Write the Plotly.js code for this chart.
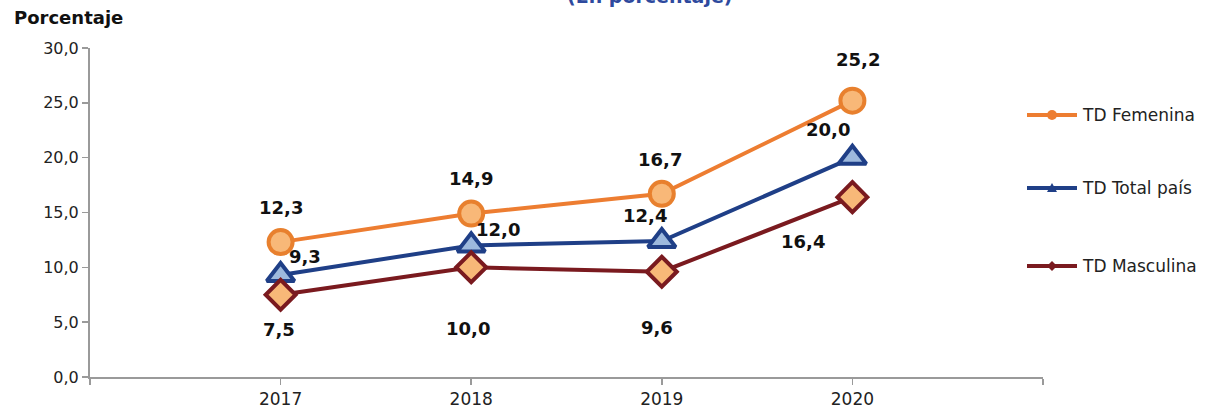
<!DOCTYPE html>
<html>
<head>
<meta charset="utf-8">
<script src="https://cdn.plot.ly/plotly-3.0.1.min.js"></script>
<style>html,body{margin:0;padding:0;background:#fff;}#chart{width:1205px;height:408px;}</style>
</head>
<body>
<div id="chart"></div>
<script>
// ---- data ----
const years = [2017, 2018, 2019, 2020];
const tdFemenina = [12.3, 14.9, 16.7, 25.2];
const tdTotal = [9.3, 12.0, 12.4, 20.0];
const tdMasculina = [7.5, 10.0, 9.6, 16.4];
const seriesNames = ['TD Femenina', 'TD Total país', 'TD Masculina'];
const yTickVals = [0, 5, 10, 15, 20, 25, 30];

// ---- style ----
const FONT = 'DejaVu Sans, Verdana, sans-serif';
const fmt = v => v.toFixed(1).replace('.', ',');
const W = 1205, H = 408, M = {l: 90, r: 162, t: 48, b: 31};
const PW = W - M.l - M.r, PH = H - M.t - M.b;
const px2x = p => (p - M.l) / PW;
const py2y = p => (H - M.b - p) / PH;

const styles = [
  {line: '#ED7D31', fill: '#F8B878', mline: '#E8802E', symbol: 'circle', size: 24},
  {line: '#1F3F87', fill: '#9DB9DD', mline: '#1F3F87', symbol: 'triangle-up', size: 24},
  {line: '#7A1A1F', fill: '#F8B878', mline: '#7A1A1F', symbol: 'diamond', size: 23}
];
// label pixel offsets (dx, dy) per point
const labelOffsets = [
  [[0, 35], [0, 35], [-2, 34], [6, 41]],
  [[24, 19], [27, 16], [-17, 26], [-24, 28]],
  [[-2, -35], [-3, -61], [-5, -56], [-49, -44]]
];
const allSeries = [tdFemenina, tdTotal, tdMasculina];

const traces = allSeries.map((vals, i) => {
  const s = styles[i];
  return {
    x: years, y: vals, type: 'scatter', mode: 'lines+markers',
    name: seriesNames[i], showlegend: false, hoverinfo: 'skip',
    line: {color: s.line, width: 4},
    marker: {symbol: s.symbol, size: s.size, color: s.fill, line: {color: s.mline, width: 4}}
  };
});

const annotations = [];
allSeries.forEach((vals, i) => {
  vals.forEach((v, j) => {
    annotations.push({
      x: years[j], y: v, xref: 'x', yref: 'y', text: fmt(v), showarrow: false,
      xshift: labelOffsets[i][j][0], yshift: labelOffsets[i][j][1],
      font: {family: FONT, size: 18, color: '#111', weight: 'bold'}
    });
  });
});
annotations.push({
  xref: 'paper', yref: 'paper', x: px2x(12), y: py2y(30), xanchor: 'left', yanchor: 'bottom',
  text: '<b>Porcentaje</b>', showarrow: false,
  font: {family: FONT, size: 18, color: '#111'}
});
annotations.push({
  xref: 'paper', yref: 'paper', x: px2x(650), y: py2y(9), xanchor: 'center', yanchor: 'bottom',
  text: '<b>(En porcentaje)</b>', showarrow: false,
  font: {family: FONT, size: 19, color: '#2E4A9E'}
});

// custom legend
const shapes = [];
const legendY = [115, 188, 266];
const legX0 = 1027, legX1 = 1077, legMid = 1052;
seriesNames.forEach((name, i) => {
  const s = styles[i];
  const yy = py2y(legendY[i]);
  shapes.push({type: 'line', xref: 'paper', yref: 'paper', x0: px2x(legX0), x1: px2x(legX1), y0: yy, y1: yy,
    line: {color: s.line, width: 4}});
  let path;
  if (i === 0) {
    shapes.push({type: 'circle', xref: 'paper', yref: 'paper', xsizemode: 'pixel', ysizemode: 'pixel',
      xanchor: px2x(legMid), yanchor: yy, x0: -5, x1: 5, y0: -5, y1: 5,
      fillcolor: s.line, line: {color: s.line, width: 0}});
  } else {
    path = i === 1 ? 'M -5 -4 L 5 -4 L 0 5 Z' : 'M -5 0 L 0 5 L 5 0 L 0 -5 Z';
    shapes.push({type: 'path', xref: 'paper', yref: 'paper', xsizemode: 'pixel', ysizemode: 'pixel',
      xanchor: px2x(legMid), yanchor: yy, path: path,
      fillcolor: s.line, line: {color: s.line, width: 0}});
  }
  annotations.push({
    xref: 'paper', yref: 'paper', x: px2x(1080), y: yy, xanchor: 'left', yanchor: 'middle',
    text: name, showarrow: false, font: {family: FONT, size: 17, color: '#222'}
  });
});

const layout = {
  width: W, height: H,
  margin: {l: M.l, r: M.r, t: M.t, b: M.b, pad: 0},
  paper_bgcolor: '#fff', plot_bgcolor: '#fff',
  showlegend: false,
  xaxis: {
    range: [2016, 2021], tickmode: 'array',
    tickvals: [2016].concat(years, [2021]),
    ticktext: [''].concat(years.map(String), ['']),
    showgrid: false, zeroline: false, showline: true, linecolor: '#9a9a9a', linewidth: 2,
    ticks: 'outside', ticklen: 6, tickwidth: 1.5, tickcolor: '#9a9a9a',
    tickfont: {family: FONT, size: 17, color: '#222'}
  },
  yaxis: {
    range: [0, 30], tickmode: 'array', tickvals: yTickVals,
    ticktext: yTickVals.map(fmt),
    showgrid: false, zeroline: false, showline: true, linecolor: '#9a9a9a', linewidth: 2,
    ticks: 'outside', ticklen: 6, tickwidth: 1.5, tickcolor: '#9a9a9a',
    tickfont: {family: FONT, size: 16, color: '#222'}
  },
  shapes: shapes,
  annotations: annotations
};

Plotly.newPlot('chart', traces, layout, {displayModeBar: false, staticPlot: true});
</script>
</body>
</html>
